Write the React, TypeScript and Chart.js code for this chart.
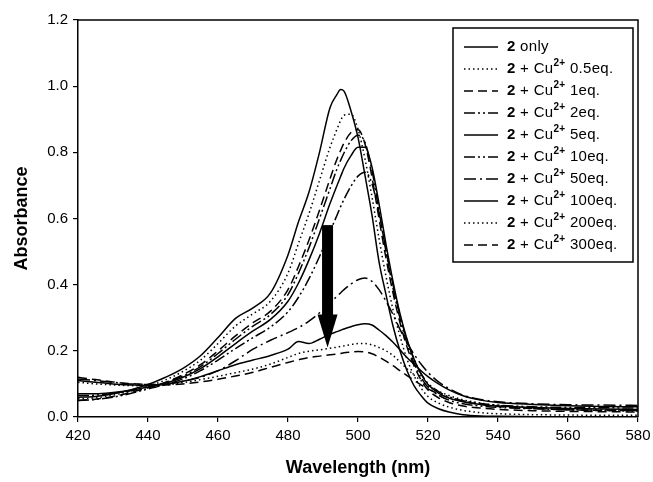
import { useEffect, useRef } from "react";
import { Chart, registerables } from "chart.js";
Chart.register(...registerables);

const wavelengths = [420,425,430,435,440,445,450,455,460,465,470,475,480,483,486,489,492,494,495,496,498,500,502,504,506,508,510,512,514,516,518,520,523,526,530,535,540,550,560,570,580];

const only2 = [.060,.062,.070,.082,.098,.120,.147,.185,.240,.298,.330,.375,.490,.590,.680,.800,.935,.975,.990,.985,.925,.845,.730,.610,.470,.370,.275,.200,.140,.095,.065,.042,.025,.015,.007,.003,.002,.001,0,0,0];
const cu05 = [.055,.058,.066,.078,.093,.112,.138,.172,.222,.275,.312,.350,.435,.525,.615,.715,.815,.870,.895,.912,.915,.870,.780,.665,.540,.425,.325,.245,.175,.125,.088,.062,.042,.030,.020,.013,.010,.007,.006,.005,.005];
const cu1 = [.050,.054,.062,.074,.088,.105,.128,.158,.200,.245,.285,.320,.385,.455,.535,.625,.720,.780,.805,.828,.860,.868,.825,.725,.600,.480,.375,.285,.212,.155,.112,.082,.058,.044,.033,.027,.023,.019,.017,.016,.015];
const cu2 = [.065,.066,.071,.079,.090,.104,.124,.152,.192,.235,.275,.310,.370,.435,.512,.600,.690,.750,.775,.798,.835,.852,.830,.745,.625,.500,.390,.298,.222,.163,.120,.090,.066,.051,.040,.033,.029,.025,.022,.021,.020];
const cu5 = [.070,.070,.074,.081,.091,.102,.120,.146,.182,.222,.260,.295,.350,.405,.475,.555,.645,.700,.726,.752,.790,.815,.815,.755,.645,.522,.410,.312,.235,.175,.130,.098,.072,.057,.046,.038,.033,.029,.026,.024,.023];
const cu10 = [.050,.053,.060,.071,.085,.098,.115,.140,.172,.207,.240,.272,.318,.362,.418,.485,.560,.610,.635,.658,.698,.728,.740,.705,.615,.505,.400,.308,.233,.175,.132,.102,.077,.061,.049,.041,.036,.031,.029,.028,.027];
const cu50 = [.115,.110,.105,.100,.098,.100,.108,.120,.140,.170,.205,.232,.255,.270,.290,.315,.345,.365,.375,.385,.402,.415,.420,.410,.385,.350,.310,.265,.225,.190,.160,.135,.106,.086,.066,.053,.046,.040,.037,.036,.035];
const cu100 = [.110,.105,.100,.097,.095,.099,.108,.122,.140,.158,.172,.186,.205,.228,.222,.235,.250,.258,.262,.266,.273,.279,.282,.278,.263,.246,.226,.203,.180,.160,.140,.122,.100,.082,.064,.051,.044,.038,.034,.032,.031];
const cu200 = [.105,.100,.097,.095,.094,.097,.104,.113,.123,.134,.145,.160,.180,.192,.199,.203,.208,.211,.213,.215,.219,.222,.222,.218,.210,.200,.186,.166,.146,.127,.110,.095,.078,.065,.052,.042,.035,.027,.022,.019,.018];
const cu300 = [.120,.113,.106,.101,.098,.097,.100,.106,.114,.124,.135,.150,.165,.173,.180,.184,.188,.190,.192,.194,.196,.198,.197,.191,.181,.169,.155,.140,.125,.111,.097,.085,.070,.058,.047,.038,.032,.026,.022,.020,.020];

const seriesValues = [only2, cu05, cu1, cu2, cu5, cu10, cu50, cu100, cu200, cu300];
const seriesSuffix = ["only", "0.5eq.", "1eq.", "2eq.", "5eq.", "10eq.", "50eq.", "100eq.", "200eq.", "300eq."];

const xTicks = [420, 440, 460, 480, 500, 520, 540, 560, 580];
const yTicks = [0, 0.2, 0.4, 0.6, 0.8, 1.0, 1.2];

// arrow: wavelength, from absorbance, to absorbance
const arrowWavelength = 491.3;
const arrowFrom = 0.58;
const arrowTo = 0.21;

const SOLID: number[] = [];
const DOT = [1.5, 3];
const DASH = [9, 5];
const DASH_DOT_DOT = [11, 3, 2, 3, 2, 3];
const DASH_DOT = [12, 4, 2, 4];
const dashStyles = [SOLID, DOT, DASH, DASH_DOT_DOT, SOLID, DASH_DOT_DOT, DASH_DOT, SOLID, DOT, DASH];

const FONT = '"Liberation Sans", Arial, sans-serif';

const framePlugin = {
  id: "frame",
  afterDraw(chart: any) {
    const { ctx, chartArea } = chart;
    ctx.save();
    ctx.strokeStyle = "#000";
    ctx.lineWidth = 1.5;
    ctx.beginPath();
    ctx.moveTo(chartArea.left, chartArea.top);
    ctx.lineTo(chartArea.right, chartArea.top);
    ctx.lineTo(chartArea.right, chartArea.bottom);
    ctx.stroke();

    // arrow
    const xs = chart.scales.x, ys = chart.scales.y;
    const ax = xs.getPixelForValue(arrowWavelength);
    const yTop = ys.getPixelForValue(arrowFrom);
    const yTip = ys.getPixelForValue(arrowTo);
    const headLen = 33;
    ctx.fillStyle = "#000";
    ctx.fillRect(ax - 5.5, yTop, 11, yTip - headLen - yTop + 1);
    ctx.beginPath();
    ctx.moveTo(ax - 10, yTip - headLen);
    ctx.lineTo(ax + 10, yTip - headLen);
    ctx.lineTo(ax, yTip);
    ctx.closePath();
    ctx.fill();

    // legend
    const bx = 453, by = 28, bw = 180, bh = 234;
    ctx.fillStyle = "#fff";
    ctx.fillRect(bx, by, bw, bh);
    ctx.strokeStyle = "#000";
    ctx.lineWidth = 1.5;
    ctx.strokeRect(bx, by, bw, bh);
    ctx.textBaseline = "middle";
    ctx.fillStyle = "#000";
    try { (ctx as any).letterSpacing = "0.3px"; } catch (e) {}
    seriesSuffix.forEach((suf, i) => {
      const y = by + 19 + i * 22;
      ctx.lineWidth = 1.5;
      ctx.setLineDash(dashStyles[i]);
      ctx.beginPath();
      ctx.moveTo(bx + 11, y);
      ctx.lineTo(bx + 45, y);
      ctx.stroke();
      ctx.setLineDash([]);
      let x = bx + 54;
      ctx.font = `bold 15px ${FONT}`;
      ctx.fillText("2", x, y);
      x += ctx.measureText("2").width;
      ctx.font = `15px ${FONT}`;
      if (i === 0) {
        ctx.fillText(" " + suf, x, y);
      } else {
        const t = " + Cu";
        ctx.fillText(t, x, y);
        x += ctx.measureText(t).width;
        ctx.font = `bold 10px ${FONT}`;
        ctx.fillText("2+", x, y - 6);
        x += ctx.measureText("2+").width;
        ctx.font = `15px ${FONT}`;
        ctx.fillText(" " + suf, x, y);
      }
    });
    ctx.restore();
  },
};

export default function App() {
  const ref = useRef<HTMLCanvasElement | null>(null);
  useEffect(() => {
    document.body.style.margin = "0";
    if (!ref.current) return;
    const chart = new Chart(ref.current, {
      type: "line",
      data: {
        datasets: seriesValues.map((vals, i) => ({
          label: "2 " + seriesSuffix[i],
          data: wavelengths.map((w, j) => ({ x: w, y: vals[j] })),
          borderColor: "#000",
          borderWidth: 1.5,
          borderDash: dashStyles[i],
          pointRadius: 0,
          fill: false,
          cubicInterpolationMode: "monotone" as const,
        })),
      },
      options: {
        animation: false,
        responsive: false,
        layout: { padding: { left: 0, right: 15, top: 20, bottom: 0 } },
        plugins: { legend: { display: false }, tooltip: { enabled: false } },
        scales: {
          x: {
            type: "linear",
            min: 420,
            max: 580,
            afterFit: (s: any) => { s.height = 65; s.paddingRight = 0; s.paddingLeft = 0; },
            afterBuildTicks: (s: any) => { s.ticks = xTicks.map((v) => ({ value: v })); },
            ticks: { color: "#000", font: { size: 15, family: FONT }, padding: 5, maxRotation: 0 },
            grid: { drawOnChartArea: false, drawTicks: true, tickLength: 5, color: "#000", lineWidth: 1.2 },
            border: { color: "#000", width: 1.5 },
            title: { display: true, text: "Wavelength (nm)", color: "#000", font: { size: 18, weight: "bold", family: FONT }, padding: { top: 0, bottom: 3 } },
          },
          y: {
            type: "linear",
            min: 0,
            max: 1.2,
            afterFit: (s: any) => { s.width = 78; },
            afterBuildTicks: (s: any) => { s.ticks = yTicks.map((v) => ({ value: v })); },
            ticks: { color: "#000", font: { size: 15, family: FONT }, padding: 5, callback: (v: any) => Number(v).toFixed(1) },
            grid: { drawOnChartArea: false, drawTicks: true, tickLength: 5, color: "#000", lineWidth: 1.2 },
            border: { color: "#000", width: 1.5 },
            title: { display: true, text: "Absorbance", color: "#000", font: { size: 18, weight: "bold", family: FONT }, padding: { top: 11, bottom: 0 } },
          },
        },
      },
      plugins: [framePlugin],
    } as any);
    return () => chart.destroy();
  }, []);
  return (
    <div style={{ width: 653, height: 482 }}>
      <canvas ref={ref} width={653} height={482} />
    </div>
  );
}
